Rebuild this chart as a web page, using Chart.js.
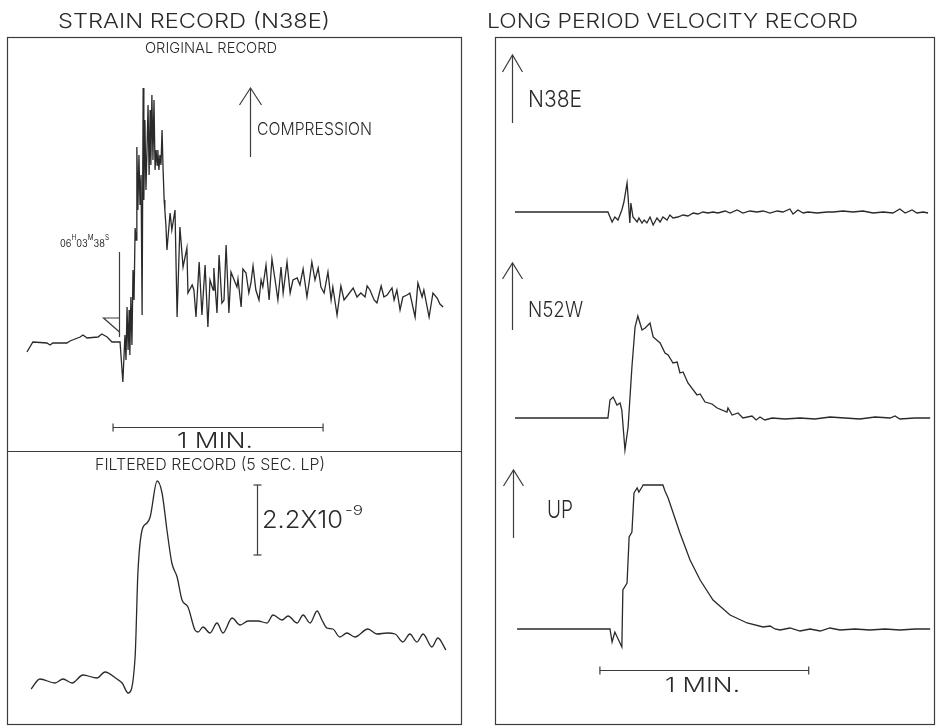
<!DOCTYPE html>
<html>
<head>
<meta charset="utf-8">
<script src="https://cdn.jsdelivr.net/npm/chart.js@4.4.1/dist/chart.umd.min.js"></script>
<style>
  html, body { margin: 0; padding: 0; background: #fff; }
  #wrap { position: relative; width: 936px; height: 727px; }
  canvas { display: block; }
</style>
</head>
<body>
<div id="wrap"><canvas id="c" width="936" height="727"></canvas></div>
<script>
// ---------------- DATA (time in seconds, amplitude in relative units) ----------------
const panelTitles = ['STRAIN RECORD (N38E)', 'LONG PERIOD VELOCITY RECORD'];
const subTitles = ['ORIGINAL RECORD', 'FILTERED RECORD (5 SEC. LP)'];
const componentLabels = ['N38E', 'N52W', 'UP'];
const polarityLabel = 'COMPRESSION';
const timeBarLabel = '1 MIN.';
const timeBarSeconds = 60;
const strainScaleText = '2.2X10';
const strainScaleExp = '-9';
const strainScaleUnits = 7.0;          // length of the 2.2e-9 bar in filtered-record units
const onsetStamp = [['06', 0], ['H', 1], ['03', 0], ['M', 1], ['38', 0], ['S', 1]];

// Strain, original record
const origT = [-26.3,-24.6,-20.6,-19.7,-18.9,-14.9,-14.0,-11.1,-10.3,-9.1,-6.0,-4.9,-3.4,-2.0,0.3,
  1.1,1.7,2.0,2.3,2.6,2.9,3.1,3.4,3.7,4.0,4.3,4.6,4.9,5.1,5.4,5.7,6.0,6.3,6.6,6.9,7.1,7.4,7.7,8.0,
  8.3,8.6,8.9,9.1,9.4,9.7,10.0,10.3,10.6,10.9,11.1,11.4,11.7,12.0,12.3,12.6,12.9,13.1,13.4,13.7,
  14.6,15.1,16.0,16.6,17.4,18.3,19.4,19.7,20.9,21.4,22.0,22.9,23.7,24.6,25.4,26.0,26.9,27.1,28.0,
  28.6,29.4,30.0,30.6,31.4,32.0,32.9,33.7,34.0,34.9,35.4,36.3,37.1,37.7,38.3,39.1,40.0,40.6,41.1,
  42.0,42.9,43.7,44.6,45.4,46.3,46.9,48.0,48.9,49.7,50.9,51.7,52.6,53.7,54.3,55.1,56.0,56.9,57.7,
  58.6,59.7,60.6,61.1,62.3,63.4,64.3,65.4,66.9,68.0,69.1,70.3,70.9,71.7,72.9,73.7,74.9,75.7,76.6,
  78.0,78.6,79.4,80.3,81.1,82.3,83.1,84.6,85.4,86.6,87.1,88.6,89.7,90.9,91.7,92.6];
const origA = [-0.9,0.1,0.0,-0.2,0.0,0.0,0.2,0.6,0.8,0.5,0.6,0.9,0.6,0.1,0.1,
  -3.9,0.8,-1.7,3.6,-0.7,3.3,-1.2,4.6,-0.2,7.3,4.3,11.5,10.3,19.6,13.3,18.8,13.8,16.8,2.8,25.5,14.3,22.3,15.3,19.3,
  23.8,16.8,23.3,17.8,24.8,18.3,24.3,17.3,19.3,17.8,19.3,17.3,18.8,17.8,21.3,17.3,14.3,13.3,11.8,9.3,
  13.0,11.3,13.3,2.6,11.6,7.6,9.5,5.0,5.8,5.3,2.6,8.1,2.8,7.8,1.6,6.3,5.3,7.5,3.0,
  8.8,4.0,4.3,9.8,3.0,7.1,6.3,5.6,6.4,3.6,7.4,7.0,5.0,6.0,7.7,5.3,4.3,6.3,5.6,
  7.8,4.3,8.4,6.3,4.3,7.6,5.0,8.1,5.0,6.3,6.5,5.8,7.4,4.6,6.0,8.1,6.3,7.5,5.6,
  5.0,7.1,4.3,5.6,2.8,5.7,4.3,4.8,5.5,4.6,5.0,4.6,5.7,5.3,4.3,4.0,5.7,4.6,4.8,
  5.5,4.3,5.3,3.3,4.6,4.8,5.0,2.6,6.0,4.6,5.3,2.6,5.0,4.5,3.9,3.6];

// Strain, filtered record (5 s low pass)
const filtT = [-25.1,-22.6,-18.3,-16.0,-13.4,-10.3,-6.3,-4.0,-0.6,0.9,2.6,4.6,5.4,6.6,8.0,8.9,10.9,12.3,13.7,
  15.1,16.6,18.0,19.7,21.7,22.6,24.0,26.0,28.0,29.7,32.3,34.6,36.9,39.7,42.3,44.0,46.6,48.3,50.9,52.6,
  54.6,56.6,58.0,59.4,61.1,63.1,65.1,67.4,71.1,73.7,76.6,78.9,81.1,83.1,85.1,86.9,89.4,91.1,93.4];
const filtA = [-0.6,0.4,0.0,0.4,0.0,0.8,0.5,1.1,0.4,0.0,-1.0,2.6,11.0,15.3,16.0,16.6,20.2,19.0,15.3,
  12.0,10.6,8.3,7.6,5.3,5.1,5.6,5.0,6.0,5.0,6.5,5.8,6.2,6.2,6.0,6.8,6.3,6.7,6.0,6.8,
  6.0,7.2,6.3,5.5,5.4,4.6,5.0,4.6,5.4,4.9,5.0,4.9,4.1,4.9,4.1,4.9,3.6,4.5,3.3];

// Long period velocity, N38E
const n38eT = [-27.3,-2.9,-0.6,0.6,1.4,2.3,3.4,4.0,4.9,5.2,5.7,6.0,6.6,7.8,8.3,9.2,9.8,10.6,11.5,12.4,
  13.5,14.4,15.2,16.4,17.2,18.1,19.5,21.0,22.4,23.9,25.3,26.7,28.2,29.6,31.0,33.1,34.5,36.5,38.2,40.2,
  42.2,44.0,46.0,48.0,49.7,51.7,52.6,54.0,55.5,56.9,59.5,62.4,64.1,67.0,69.8,72.7,75.6,78.5,81.3,83.3,
  84.8,86.8,88.2,90.0,91.4];
const n38eA = [0,0,0,-1.0,-0.5,-0.8,0.2,1.0,2.9,1.5,-1.1,0.9,-0.5,-1.0,-0.6,-1.1,-0.8,-1.1,-0.5,-1.3,
  -0.6,-1.0,-0.5,-0.8,-0.3,-0.6,-0.5,-0.3,-0.4,-0.1,-0.2,0.0,-0.1,0.0,-0.1,0.1,-0.1,0.2,-0.1,0.1,
  0.0,0.1,-0.1,0.1,0.0,0.3,-0.2,0.2,-0.1,0.0,-0.1,0.0,0.0,0.1,0.0,0.1,-0.1,0.0,-0.1,0.3,
  -0.1,0.2,-0.1,0.0,-0.1];

// Long period velocity, N52W
const n52wT = [-27.3,-0.6,0.0,0.9,2.0,2.9,3.4,4.3,5.2,6.3,7.2,8.0,9.2,10.1,11.5,12.4,14.4,15.8,16.7,18.1,
  19.3,20.1,21.0,22.4,25.0,25.9,27.3,29.3,30.8,33.6,33.9,35.1,36.8,38.2,40.8,42.0,43.1,44.5,46.6,50.3,
  54.6,58.9,63.2,67.5,71.8,76.2,80.5,81.9,83.3,87.6,92.0];
const n52wA = [0,0,1.8,2.1,1.3,1.5,0.8,-3.2,-0.9,5.1,9.1,10.2,8.8,9.0,9.5,8.1,7.5,6.5,6.3,5.5,
  5.6,4.5,4.6,3.5,2.3,2.4,1.6,1.4,1.0,0.6,1.0,0.3,0.5,0.0,0.2,-0.2,0.1,-0.2,0.0,-0.1,
  0.0,-0.1,0.1,0.0,-0.1,0.1,0.0,0.2,-0.1,0.0,0.0];

// Long period velocity, UP
const upT = [-26.7,0.0,0.6,1.4,3.4,3.7,4.9,5.5,6.3,6.9,7.8,8.3,9.2,9.5,15.2,15.8,16.7,20.1,23.0,25.9,
  29.6,34.5,39.4,44.0,46.0,47.4,48.9,51.7,54.6,57.5,60.4,63.2,66.1,70.4,74.7,79.0,83.3,87.7,92.0];
const upA = [0,0,-1.3,-0.3,-1.8,3.9,4.6,9.2,9.7,13.6,14.1,13.7,14.2,14.4,14.4,13.8,13.1,9.6,6.9,4.9,
  2.9,1.4,0.6,0.2,0.3,0.0,-0.1,0.1,-0.2,0.0,-0.2,0.1,-0.1,0.0,-0.1,0.0,-0.1,0.0,0.0];

// ---------------- LAYOUT / STYLE ----------------
const W = 936, H = 727;
const INK = '#2a2a2a';
const LINE_INK = '#3c3c3c';
function xRange(p0, pxPerSec) { return { min: -p0 / pxPerSec, max: (W - p0) / pxPerSec }; }
function yRange(base, pxPerUnit) { const min = (base - H) / pxPerUnit; return { min, max: min + H / pxPerUnit }; }
function pts(T, A) { return T.map((t, i) => ({ x: t, y: A[i] })); }

function lineDS(T, A, xid, yid, smooth) {
  return {
    data: pts(T, A), xAxisID: xid, yAxisID: yid,
    borderColor: INK, borderWidth: 1.3, pointRadius: 0, fill: false,
    tension: smooth ? 0.4 : 0, cubicInterpolationMode: smooth ? 'monotone' : 'default'
  };
}

function hid(r) { return Object.assign({ type: 'linear', display: false, bounds: 'data' }, r); }

const FONT = "Inter, 'DejaVu Sans', 'Liberation Sans', sans-serif";
function fitText(ctx, str, x0, x1, capTop, base, weight) {
  const size = (base - capTop) / 0.727;
  ctx.font = `${weight || 300} ${size}px ${FONT}`;
  const w = ctx.measureText(str).width;
  ctx.save();
  ctx.translate(x0, base);
  ctx.scale((x1 - x0) / w, 1);
  ctx.textBaseline = 'alphabetic';
  ctx.textAlign = 'left';
  ctx.fillText(str, 0, 0);
  ctx.restore();
}
function seg(ctx, x0, y0, x1, y1) { ctx.beginPath(); ctx.moveTo(x0, y0); ctx.lineTo(x1, y1); ctx.stroke(); }
function arrow(ctx, x, yTip, yEnd, half, headLen) {
  seg(ctx, x, yTip, x, yEnd);
  ctx.beginPath(); ctx.moveTo(x - half, yTip + headLen); ctx.lineTo(x, yTip); ctx.lineTo(x + half, yTip + headLen); ctx.stroke();
}
function hBar(ctx, x0, x1, y, tick) {
  seg(ctx, x0, y, x1, y); seg(ctx, x0, y - tick, x0, y + tick); seg(ctx, x1, y - tick, x1, y + tick);
}

const deco = {
  id: 'deco',
  afterDraw(chart) {
    const ctx = chart.ctx, s = chart.scales;
    ctx.save();
    ctx.strokeStyle = LINE_INK; ctx.fillStyle = INK; ctx.lineWidth = 1.2;
    // frames
    ctx.strokeRect(7.5, 37.5, 454, 687);
    seg(ctx, 7.5, 451.5, 461.5, 451.5);
    ctx.strokeRect(495.5, 37.5, 439, 687);

    // titles
    fitText(ctx, panelTitles[0], 58, 330, 13, 28);
    fitText(ctx, panelTitles[1], 487, 858, 13, 28);
    fitText(ctx, subTitles[0], 145, 277, 42, 53);
    fitText(ctx, subTitles[1], 95, 325, 458, 470);

    // compression arrow
    arrow(ctx, 250.5, 88, 157, 11, 17);
    fitText(ctx, polarityLabel, 257, 372, 122, 135);

    // onset marker and time stamp
    const x0 = Math.round(s.xL.getPixelForValue(0)) + 0.5;
    seg(ctx, x0, 252, x0, 337);
    ctx.beginPath(); ctx.moveTo(x0, 318); ctx.lineTo(x0 - 16, 318); ctx.lineTo(x0, 332); ctx.stroke();
    // stamp with superscripts
    ctx.save();
    let widths = 0;
    const parts = onsetStamp.map(([t, sup]) => {
      ctx.font = `400 ${sup ? 7 : 10}px ${FONT}`;
      const w = ctx.measureText(t).width; widths += w; return { t, sup, w };
    });
    const sx = (109 - 60) / widths;
    ctx.translate(60, 247); ctx.scale(sx, 1);
    let cx = 0;
    parts.forEach(p => {
      ctx.font = `400 ${p.sup ? 7 : 10}px ${FONT}`;
      ctx.fillText(p.t, cx, p.sup ? -7 : 0);
      cx += p.w;
    });
    ctx.restore();

    // 1 MIN bar (left)
    hBar(ctx, s.xL.getPixelForValue(-1.7), s.xL.getPixelForValue(-1.7 + timeBarSeconds), 427.5, 4);
    fitText(ctx, timeBarLabel, 177, 253, 432, 448);

    // strain scale bar
    const yb0 = s.yF.getPixelForValue(12.8), yb1 = s.yF.getPixelForValue(12.8 + strainScaleUnits);
    seg(ctx, 257.5, yb0, 257.5, yb1);
    seg(ctx, 253.5, yb0, 261.5, yb0); seg(ctx, 253.5, yb1, 261.5, yb1);
    fitText(ctx, strainScaleText, 262, 343, 510, 528);
    fitText(ctx, strainScaleExp, 345, 363, 505, 515);

    // right panel component arrows and labels
    arrow(ctx, 512.5, 55, 123, 10, 17);
    fitText(ctx, componentLabels[0], 528, 582, 90, 107);
    arrow(ctx, 512.5, 263, 330, 10, 16);
    fitText(ctx, componentLabels[1], 528, 583, 301, 317);
    arrow(ctx, 513.5, 470, 538, 10, 16);
    fitText(ctx, componentLabels[2], 547, 573, 500, 518);

    // 1 MIN bar (right)
    hBar(ctx, s.xR.getPixelForValue(-2.9), s.xR.getPixelForValue(-2.9 + timeBarSeconds), 670.5, 4);
    fitText(ctx, timeBarLabel, 665, 740, 677, 692);
    ctx.restore();
  }
};

new Chart(document.getElementById('c'), {
  type: 'line',
  data: {
    datasets: [
      lineDS(origT, origA, 'xL', 'yO', false),
      lineDS(filtT, filtA, 'xL', 'yF', true),
      lineDS(n38eT, n38eA, 'xR', 'yN', false),
      lineDS(n52wT, n52wA, 'xR', 'yW', false),
      lineDS(upT, upA, 'xR', 'yU', false)
    ]
  },
  options: {
    responsive: false, animation: false, events: [],
    layout: { padding: 0 },
    plugins: { legend: { display: false }, title: { display: false }, tooltip: { enabled: false } },
    scales: {
      xL: hid(xRange(119, 3.5)),
      xR: hid(xRange(610, 3.48)),
      yO: hid(yRange(343, 10)),
      yF: hid(yRange(683, 10)),
      yN: hid(yRange(212, 10)),
      yW: hid(yRange(418, 10)),
      yU: hid(yRange(629, 10))
    }
  },
  plugins: [deco]
});
</script>
</body>
</html>
